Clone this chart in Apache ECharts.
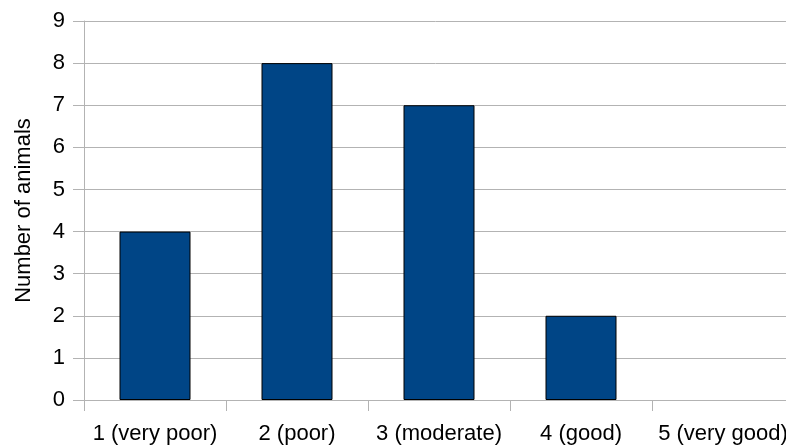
<!DOCTYPE html>
<html><head><meta charset="utf-8">
<script src="https://cdn.jsdelivr.net/npm/echarts@6/dist/echarts.min.js"></script>
<style>html,body{margin:0;padding:0;background:#fff}#c{width:786px;height:447px}</style>
</head><body><div id="c"></div>
<script>
const categories = ['1 (very poor)', '2 (poor)', '3 (moderate)', '4 (good)', '5 (very good)'];
const animals = [4, 8, 7, 2, 0];
const yAxisName = 'Number of animals';

const font = '"Liberation Sans", Arial, sans-serif';
const chart = echarts.init(document.getElementById('c'), null, {renderer: 'canvas'});
chart.setOption({
  animation: false,
  backgroundColor: '#fff',
  grid: {left: 84, width: 710, top: 21, height: 379, containLabel: false, outerBoundsMode: 'none'},
  xAxis: {
    type: 'category', data: categories,
    axisLine: {lineStyle: {color: '#b3b3b3', width: 1}},
    axisTick: {show: true, length: 11, lineStyle: {color: '#b3b3b3'}},
    axisLabel: {color: '#000', fontSize: 22, fontFamily: font, margin: 23, interval: 0, hideOverlap: false},
    splitLine: {show: false}
  },
  yAxis: {
    type: 'value', min: 0, max: 9, interval: 1,
    name: yAxisName, nameLocation: 'middle', nameGap: 49,
    nameTextStyle: {color: '#000', fontSize: 22, fontFamily: font},
    axisLine: {show: true, lineStyle: {color: '#b3b3b3', width: 1}},
    axisTick: {show: true, length: 11, lineStyle: {color: '#b3b3b3'}},
    axisLabel: {color: '#000', fontSize: 22, fontFamily: font, margin: 19},
    splitLine: {show: true, lineStyle: {color: '#b3b3b3', width: 1}}
  },
  series: [{
    type: 'bar',
    data: animals.map(v => v === 0 ? {value: v, itemStyle: {borderWidth: 0}} : v),
    barWidth: '50%',
    itemStyle: {color: '#004586', borderColor: '#000', borderWidth: 1}
  }]
});
</script></body></html>
